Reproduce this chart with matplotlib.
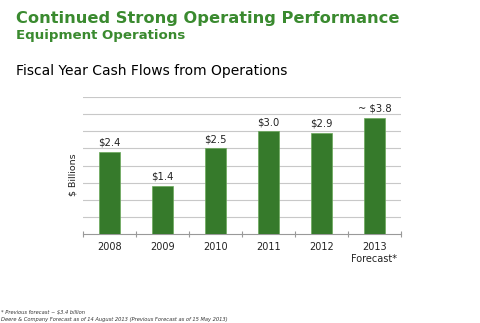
import numpy as np
import matplotlib
matplotlib.use('Agg')
import matplotlib.pyplot as plt

## DATA
years = ['2008', '2009', '2010', '2011', '2012', '2013\nForecast*']
cash = [2.4, 1.4, 2.5, 3.0, 2.95, 3.4]
labels = ['$2.4', '$1.4', '$2.5', '$3.0', '$2.9', '~ $3.8']

TITLE = "Continued Strong Operating Performance"
SUBTITLE = "Equipment Operations"
HEADING = "Fiscal Year Cash Flows from Operations"
NOTE1 = "* Previous forecast ~ $3.4 billion"
NOTE2 = "Deere & Company Forecast as of 14 August 2013 (Previous Forecast as of 15 May 2013)"

GREEN = '#3a8a2f'
BAR = '#367a2b'

W, H = 480, 323
fig = plt.figure(figsize=(W / 100, H / 100), dpi=100)
fig.patch.set_facecolor('white')

# axes placed in pixel coords of the reference
ax = fig.add_axes([83 / W, (H - 234) / H, 318 / W, 137 / H])
x = np.arange(len(years))
ax.bar(x, cash, width=0.4, color=BAR, edgecolor='#6aa85a', linewidth=0.5, zorder=3)
for xi, v, lab in zip(x, cash, labels):
    ax.text(xi, v + 0.12, lab, ha='center', va='bottom', fontsize=7.2, color='#222222')

ax.set_xlim(-0.5, len(years) - 0.5)
ax.set_ylim(0, 4)
ax.set_yticks(np.arange(0.5, 4.01, 0.5))
ax.yaxis.grid(True, color='#c8c8c8', linewidth=0.8, zorder=0)
ax.tick_params(axis='y', length=0, labelleft=False)
ax.set_xticks(np.arange(-0.5, len(years), 1.0))
ax.set_xticks(x, minor=True)
ax.set_xticklabels([])
ax.set_xticklabels(years, minor=True, fontsize=7, color='#222222', linespacing=1.25)
ax.tick_params(axis='x', which='major', length=4, direction='inout', color='#999999', width=0.8)
ax.tick_params(axis='x', which='minor', length=0, pad=6)
for s in ['top', 'right', 'left']:
    ax.spines[s].set_visible(False)
ax.spines['bottom'].set_color('#999999')
ax.set_ylabel('$ Billions', fontsize=6.8, color='#222222')
ax.yaxis.set_label_coords(-0.018, 0.43)

# headings
fig.text(16 / W, 1 - 19 / H, TITLE, fontsize=11.7, fontweight='bold', color=GREEN, va='center')
fig.text(16 / W, 1 - 35 / H, SUBTITLE, fontsize=9.6, fontweight='bold', color=GREEN, va='center')
fig.text(16 / W, 1 - 71 / H, HEADING, fontsize=10, color='black', va='center')

# footnotes
fig.text(1 / W, 1 - 312 / H, NOTE1, fontsize=3.7, style='italic', color='#333333', va='center')
fig.text(1 / W, 1 - 319 / H, NOTE2, fontsize=3.7, style='italic', color='#333333', va='center')

fig.savefig('out.png', dpi=100)
